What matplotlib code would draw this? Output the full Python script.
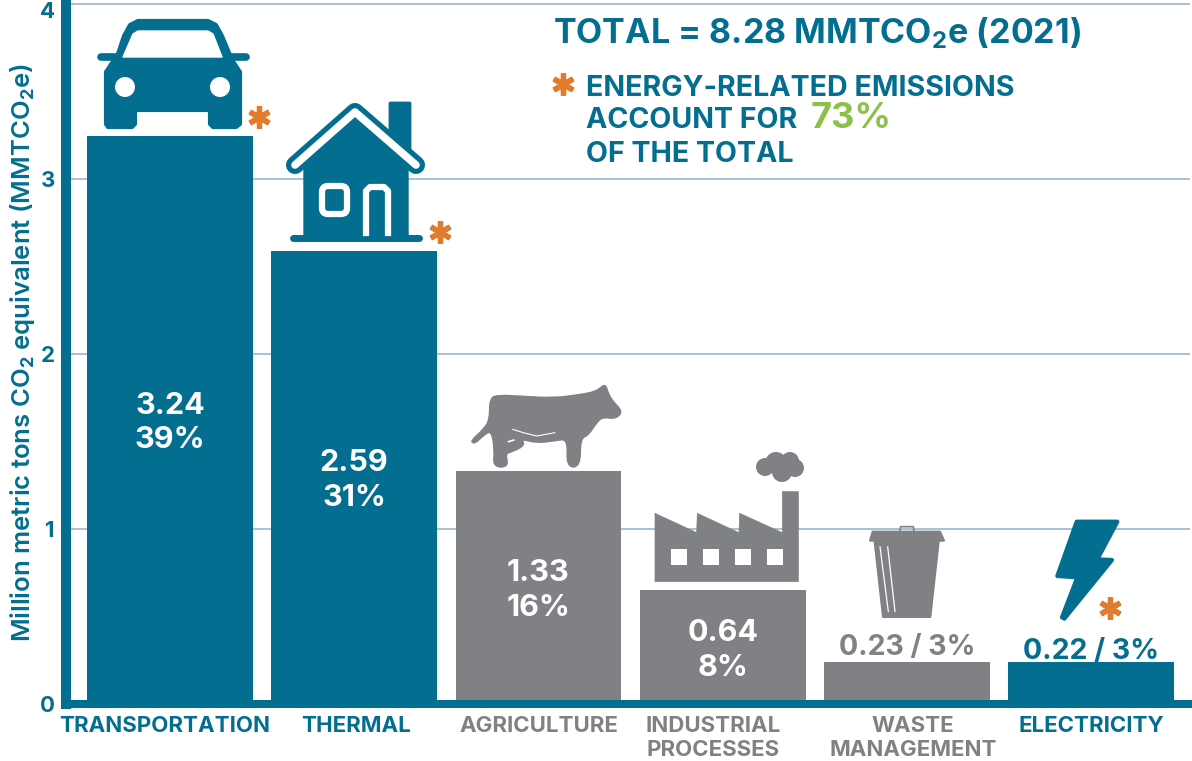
import matplotlib
matplotlib.use('Agg')
import matplotlib.pyplot as plt
from matplotlib.patches import Polygon, Circle, FancyBboxPatch, Rectangle, PathPatch
from matplotlib.path import Path
from matplotlib.transforms import ScaledTranslation

FONT = 'Inter'
plt.rcParams['font.family'] = [FONT, 'DejaVu Sans']
plt.rcParams['mathtext.fontset'] = 'custom'
plt.rcParams['mathtext.rm'] = FONT + ':bold'
plt.rcParams['mathtext.bf'] = FONT + ':bold'
plt.rcParams['mathtext.default'] = 'bf'

TEAL = '#036E8F'
GREY = '#808184'
ORANGE = '#E27B2C'
GREEN = '#8CC04B'
GRID = '#8FB1C9'

categories = ['TRANSPORTATION', 'THERMAL', 'AGRICULTURE', 'INDUSTRIAL\nPROCESSES', 'WASTE\nMANAGEMENT', 'ELECTRICITY']
heights = [3.25, 2.59, 1.33, 0.65, 0.24, 0.24]
value_labels = ['3.24\n39%', '2.59\n31%', '1.33\n16%', '0.64\n8%', '0.23 / 3%', '0.22 / 3%']
bar_colors = [TEAL, TEAL, GREY, GREY, GREY, TEAL]
yticks = [0, 1, 2, 3, 4]

# layout only
label_y = [1.605, 1.275, 0.645, 0.305, 0.32, 0.30]
label_shift = [-5, 2, 0, -10, 6, 0]

W, H = 1192, 761
fig = plt.figure(figsize=(W / 100, H / 100), dpi=100, facecolor='white')
ax = fig.add_axes([66 / W, (H - 703.5) / H, (1190 - 66) / W, 701.5 / H])
ax.set_xlim(-0.5646, 5.537)
ax.set_ylim(0, 4.014)

ax.set_axisbelow(True)
ax.yaxis.grid(True, color=GRID, lw=1.1)
ax.bar(range(6), heights, width=0.9, color=bar_colors, zorder=2)

for s in ['top', 'right']:
    ax.spines[s].set_visible(False)
for s in ['left', 'bottom']:
    ax.spines[s].set_color(TEAL)
    ax.spines[s].set_zorder(3)
ax.spines['left'].set_linewidth(7.2)
ax.spines['bottom'].set_linewidth(5.8)

ax.set_yticks(yticks)
ax.tick_params(axis='y', length=0, pad=8, labelsize=16, labelcolor=TEAL)
ax.set_xticks(range(6))
ax.set_xticklabels(categories, fontsize=16, fontweight='bold', linespacing=1.25, va='top')
ax.tick_params(axis='x', length=0, pad=9)
for lab, col, dx in zip(ax.get_xticklabels(), bar_colors, label_shift):
    lab.set_color(col)
    lab.set_transform(lab.get_transform() + ScaledTranslation(dx / 100, 0, fig.dpi_scale_trans))
for lab in ax.get_yticklabels():
    lab.set_fontweight('bold')
top_lab = ax.get_yticklabels()[-1]
top_lab.set_transform(top_lab.get_transform() + ScaledTranslation(0, -6 / 100, fig.dpi_scale_trans))

ax.set_ylabel(r'Million metric tons CO$_2$ equivalent (MMTCO$_2$e)', color=TEAL, fontsize=18.5, fontweight='semibold', labelpad=2)

for i, txt in enumerate(value_labels):
    big = '\n' in txt
    ax.text(i, label_y[i], txt, ha='center', va='center', fontsize=22 if big else 20.5, fontweight='bold',
            color='white' if big else bar_colors[i], linespacing=1.31, zorder=4)

# icons and notes, drawn in picture pixels
ov = fig.add_axes([0, 0, 1, 1], facecolor='none')
ov.set_xlim(0, W)
ov.set_ylim(H, 0)
ov.axis('off')


def shape(pts, color, lw=1.5, z=5):
    ov.add_patch(Polygon(pts, closed=True, fc=color, ec=color, lw=lw, joinstyle='round', zorder=z))


def blob(pts, color, z=5):
    # quadratic curve through the midpoints, so the outline has no corners
    mids = [((pts[i][0] + pts[(i + 1) % len(pts)][0]) / 2, (pts[i][1] + pts[(i + 1) % len(pts)][1]) / 2) for i in range(len(pts))]
    verts = [mids[-1]]
    codes = [Path.MOVETO]
    for p, m in zip(pts, mids):
        verts += [p, m]
        codes += [Path.CURVE3, Path.CURVE3]
    ov.add_patch(PathPatch(Path(verts, codes), fc=color, ec=color, lw=1.5, zorder=z))


def line(pts, color, lw, z=5):
    xs, ys = zip(*pts)
    ov.plot(xs, ys, color=color, lw=lw, solid_capstyle='round', solid_joinstyle='round', zorder=z)


def zoomed(pts, x0, y0):
    return [(x0 + x / 3, y0 + y / 3) for x, y in pts]


def star(x, y, size=16):
    ov.plot([x], [y], marker=(6, 2, 0), ms=size, mew=3.8, color=ORANGE, zorder=6)


# car
shape([(116, 60), (124, 36), (130, 25), (138, 21), (208, 21), (216, 25), (222, 36), (232, 60)], TEAL, lw=3)
line([(101, 57), (246, 57)], TEAL, 5.5)
shape([(106, 72), (114, 60), (232, 60), (240, 72), (240, 124), (236, 127), (213, 127), (210, 124), (210, 110),
       (135, 110), (135, 124), (132, 127), (108, 127), (106, 124)], TEAL, lw=3)
shape([(123, 57), (133, 34), (138, 31), (208, 31), (213, 34), (222, 57)], 'white', lw=1, z=6)
ov.add_patch(Circle((125, 87), 10, fc='white', ec='none', zorder=6))
ov.add_patch(Circle((220, 87), 10, fc='white', ec='none', zorder=6))

# house
shape([(390, 103), (410, 103), (410, 155), (390, 135)], TEAL, lw=2)
shape([(304, 165), (355, 120), (408, 165), (408, 238), (304, 238)], TEAL, lw=1)
line([(295, 165), (355, 112), (416, 165)], TEAL, 13, z=5)
line([(295, 165), (355, 112), (416, 165)], 'white', 5.5, z=6)
line([(293, 238), (419, 238)], TEAL, 5)
ov.add_patch(FancyBboxPatch((322, 186), 25, 28, boxstyle='round,pad=0,rounding_size=6', fc='none', ec='white', lw=4.5, zorder=6))
ov.plot([366, 366, 370, 384, 388, 388], [233, 191, 187, 187, 191, 233], color='white', lw=4.5, solid_joinstyle='round', zorder=6)

# cow
cow = [(92, 214), (130, 180), (150, 150), (150, 85), (175, 76), (250, 80), (340, 85), (420, 75), (470, 65),
       (495, 42), (502, 65), (515, 92), (548, 125), (525, 146), (490, 140), (470, 155), (445, 195), (420, 205),
       (420, 290), (380, 290), (385, 205), (340, 212), (290, 218), (240, 205), (255, 225), (215, 245), (195, 250),
       (205, 290), (160, 290), (165, 240), (155, 180), (130, 195), (105, 220)]
blob(zoomed(cow, 440, 370), GREY)
line(zoomed([(218, 178), (250, 188), (290, 198), (345, 188)], 440, 370), 'white', 0.8, z=6)
line(zoomed([(205, 215), (222, 210)], 440, 370), 'white', 1.2, z=6)

# factory
shape(zoomed([(645, 635), (645, 430), (770, 488), (772, 430), (897, 488), (899, 430), (1027, 488), (1027, 365),
              (1075, 365), (1075, 635)], 440, 370), GREY, lw=0.5)
for wx in [693, 790, 885, 980]:
    ov.add_patch(Rectangle((440 + wx / 3, 370 + 538 / 3), 16, 16, fc='white', ec='none', zorder=6))
for cx, cy, r in [(765, 467, 9), (776, 463, 11), (790, 461, 9), (795, 468, 9), (782, 472, 10)]:
    ov.add_patch(Circle((cx, cy), r, fc=GREY, ec='none', zorder=5))

# bin
shape(zoomed([(150, 122), (158, 95), (360, 95), (372, 122)], 820, 500), GREY)
line(zoomed([(240, 92), (242, 80), (280, 80), (282, 92)], 820, 500), GREY, 1.2)
shape(zoomed([(165, 125), (190, 350), (330, 350), (355, 125)], 820, 500), GREY, lw=2)
line(zoomed([(180, 140), (205, 335)], 820, 500), 'white', 0.9, z=6)
line(zoomed([(203, 140), (225, 335)], 820, 500), 'white', 0.9, z=6)

# bolt
shape(zoomed([(770, 65), (892, 65), (832, 178), (876, 180), (733, 356), (726, 352), (772, 232), (712, 228)], 820, 500), TEAL, lw=3)

star(259, 117)
star(440, 232)
star(1110, 608)
star(563, 84)

# header
ov.text(553, 33, r'TOTAL = 8.28 MMTCO$_2$e (2021)', color=TEAL, fontsize=24.5, fontweight='bold', va='center', ha='left')
ov.text(586, 88, 'ENERGY-RELATED EMISSIONS', color=TEAL, fontsize=20.6, fontweight='bold', va='center', ha='left')
ov.text(586, 120, 'ACCOUNT FOR', color=TEAL, fontsize=20.6, fontweight='bold', va='center', ha='left')
ov.text(811, 118, '73%', color=GREEN, fontsize=26, fontweight='bold', va='center', ha='left')
ov.text(586, 154, 'OF THE TOTAL', color=TEAL, fontsize=20.6, fontweight='bold', va='center', ha='left')

fig.savefig('out.png', dpi=100, facecolor='white')
